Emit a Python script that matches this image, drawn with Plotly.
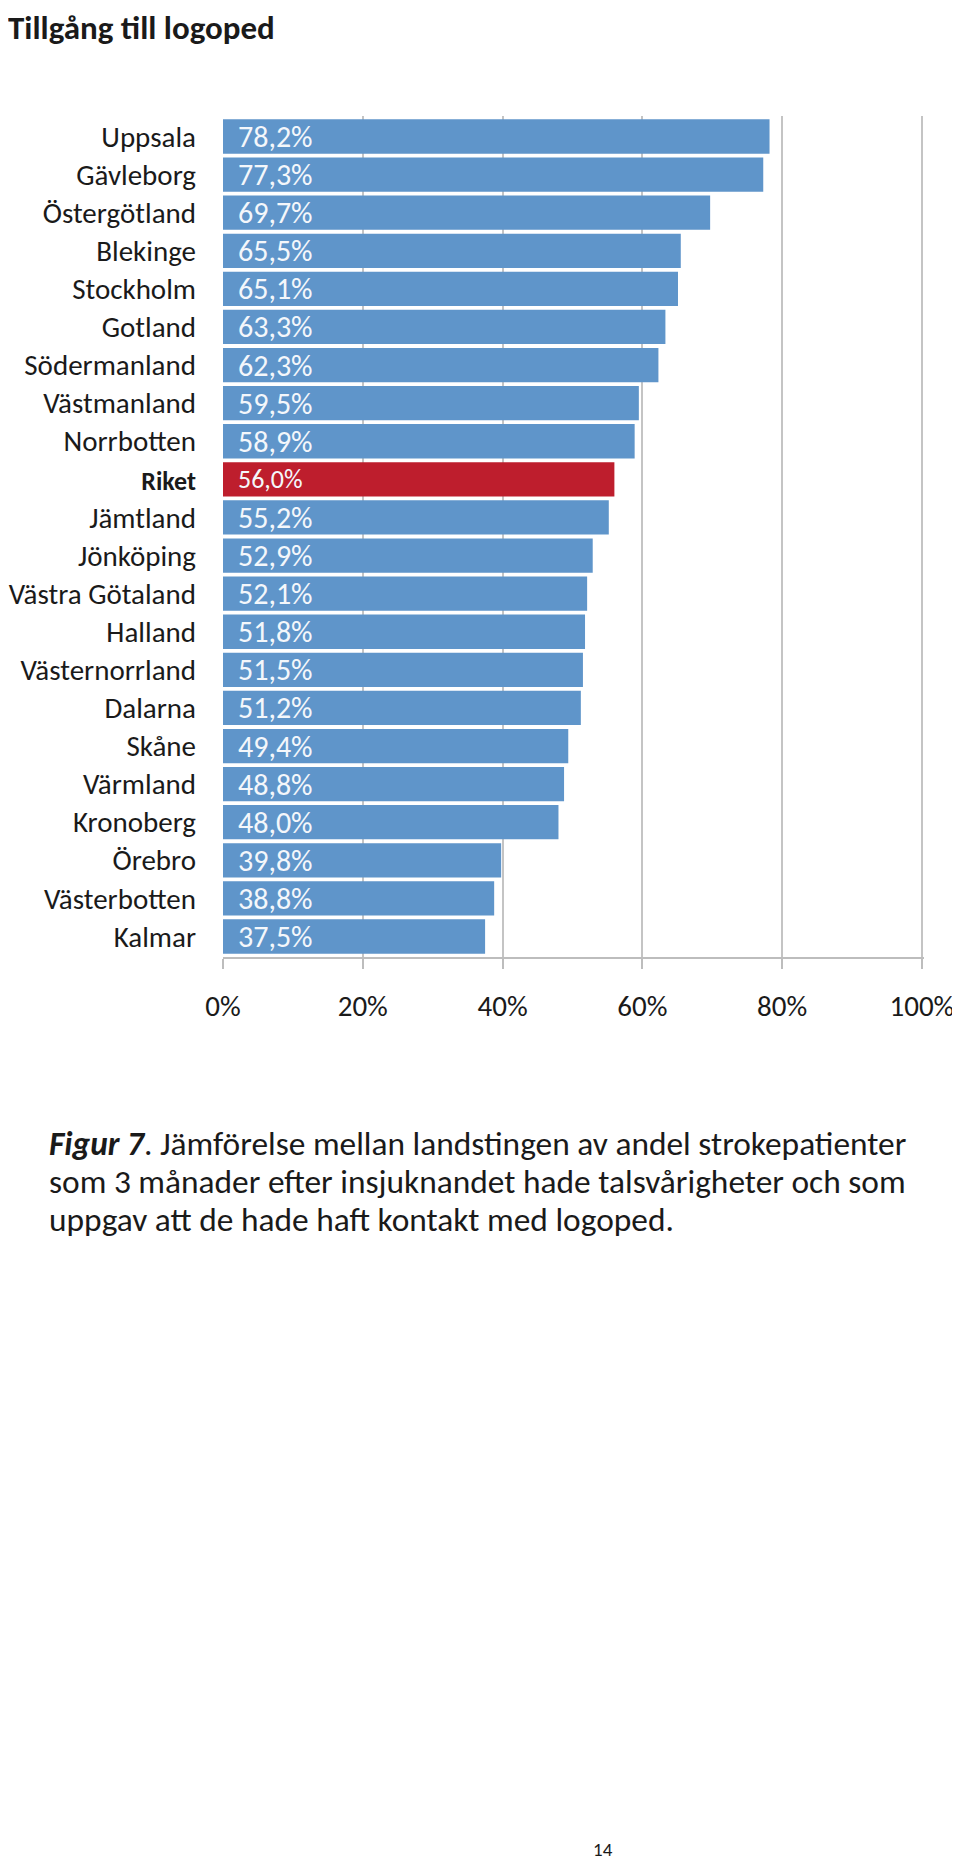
import plotly.graph_objects as go

regions = ["Uppsala", "Gävleborg", "Östergötland", "Blekinge", "Stockholm", "Gotland",
           "Södermanland", "Västmanland", "Norrbotten", "Riket", "Jämtland", "Jönköping",
           "Västra Götaland", "Halland", "Västernorrland", "Dalarna", "Skåne", "Värmland",
           "Kronoberg", "Örebro", "Västerbotten", "Kalmar"]
values = [78.2, 77.3, 69.7, 65.5, 65.1, 63.3, 62.3, 59.5, 58.9, 56.0, 55.2, 52.9,
          52.1, 51.8, 51.5, 51.2, 49.4, 48.8, 48.0, 39.8, 38.8, 37.5]
highlight = "Riket"
x_ticks = [0, 20, 40, 60, 80, 100]
x_ticklabels = ["0%", "20%", "40%", "60%", "80%", "100%"]

title_text = "Tillgång till logoped"
caption_lines = [
    "<b><i>Figur 7</i></b>. Jämförelse mellan landstingen av andel strokepatienter",
    "som 3 månader efter insjuknandet hade talsvårigheter och som",
    "uppgav att de hade haft kontakt med logoped.",
]
page_number = "14"

BLUE = "#5F95CA"
RED = "#BE1E2D"
FONT = "Carlito, Lato, 'Open Sans', sans-serif"

# The page body adds an 8px margin, so the figure is made 8px smaller each way.
W, H = 952, 1855
L, R, T, B = 215, 36, 108, 906
plot_h = H - T - B
plot_w = W - L - R

colors = [RED if r == highlight else BLUE for r in regions]
ticktext = [f"<b><span style='font-size:26px'>{r}</span></b>" if r == highlight else r for r in regions]

fig = go.Figure(go.Bar(
    y=regions, x=values, orientation="h",
    marker=dict(color=colors, line=dict(width=0)),
    hoverinfo="skip",
))

annotations = []
for r, v in zip(regions, values):
    lbl = f"{v:.1f}".replace(".", ",") + "%"
    annotations.append(dict(
        x=0, y=r, xref="x", yref="y", text=lbl, showarrow=False,
        xanchor="left", yanchor="middle", xshift=13,
        font=dict(family=FONT, size=26 if r == highlight else 30, color="#F4F7FB"),
    ))

def py(pix):
    return (H - B - pix) / plot_h

def px(pix):
    return (pix - L) / plot_w

annotations.append(dict(
    x=px(0), y=py(0), xref="paper", yref="paper", text=f"<b>{title_text}</b>",
    showarrow=False, xanchor="left", yanchor="top", borderpad=0, borderwidth=0,
    font=dict(family=FONT, size=33, color="#1a1a1a"),
))
for i, line in enumerate(caption_lines):
    annotations.append(dict(
        x=px(39), y=py(1135 + 38 * i), xref="paper", yref="paper", text=line,
        showarrow=False, xanchor="left", yanchor="middle",
        font=dict(family=FONT, size=33.4, color="#1a1a1a"),
    ))
annotations.append(dict(
    x=px(595), y=py(1853), xref="paper", yref="paper", text=page_number,
    showarrow=False, xanchor="center", yanchor="bottom", borderpad=0, borderwidth=0,
    font=dict(family=FONT, size=19, color="#1a1a1a"),
))

fig.update_layout(
    width=W, height=H,
    margin=dict(l=L, r=R, t=T, b=B, pad=0, autoexpand=False),
    paper_bgcolor="white", plot_bgcolor="white",
    bargap=0.1,
    showlegend=False,
    annotations=annotations,
    font=dict(family=FONT, color="#1a1a1a"),
)
fig.update_xaxes(
    range=[0, 100.3], tickvals=x_ticks, ticktext=x_ticklabels,
    showgrid=True, gridcolor="#C4C4C4", gridwidth=2,
    zeroline=False, showline=True, linecolor="#BDBDBD", linewidth=1.5,
    ticks="outside", ticklen=10, tickcolor="#BDBDBD", tickwidth=1.5,
    ticklabelstandoff=12, automargin=False,
    tickfont=dict(family=FONT, size=29, color="#1a1a1a"),
    layer="below traces", fixedrange=True,
)
fig.update_yaxes(
    categoryorder="array", categoryarray=regions, autorange="reversed",
    ticktext=ticktext, tickvals=regions,
    showgrid=False, zeroline=False, showline=False, ticks="",
    ticklabelstandoff=26, automargin=False,
    tickfont=dict(family=FONT, size=29, color="#1a1a1a"),
    fixedrange=True,
)

fig.write_html("out.html")
